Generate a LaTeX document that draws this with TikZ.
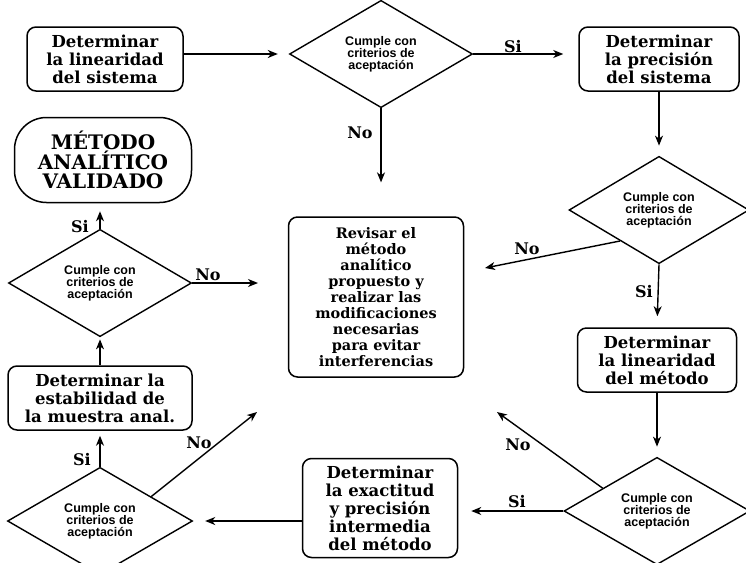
\documentclass[tikz,border=0pt]{standalone}
\usepackage{fontspec}
\newfontfamily\dfont{Liberation Sans}
\newfontfamily\bfont{DejaVu Serif}
\usetikzlibrary{shapes.geometric,arrows.meta,calc}
\begin{document}
\begin{tikzpicture}[x=1pt,y=-1pt,
  box/.style={draw, line width=1.5pt, rounded corners=9pt, align=center, inner sep=0pt,
    font=\bfont\bfseries\fontsize{16.5}{18}\selectfont},
  dec/.style={draw, diamond, line width=1.4pt, inner sep=0pt, align=center,
    font=\dfont\bfseries\fontsize{12.5}{11.5}\selectfont},
  arr/.style={line width=1.4pt, -{Stealth[length=10pt,width=8pt,inset=3pt]}},
  lab/.style={font=\bfont\bfseries\fontsize{16}{16}\selectfont, inner sep=0pt}]
\useasboundingbox (0,0) rectangle (746,562);

\node[box, minimum width=156pt, minimum height=64pt] (b1) at (105,59) {Determinar\\la linearidad\\del sistema};
\node[dec, minimum width=183pt, minimum height=91pt] (d1) at (381,54) {Cumple con\\criterios de\\aceptación};
\node[box, minimum width=160pt, minimum height=64pt] (b2) at (659,59) {Determinar\\la precisión\\del sistema};
\node[dec, minimum width=180pt, minimum height=93pt] (d2) at (659,210) {Cumple con\\criterios de\\aceptación};
\node[box, minimum width=159pt, minimum height=64pt] (b3) at (657,360) {Determinar\\la linearidad\\del método};
\node[dec, minimum width=186pt, minimum height=92pt] (d4) at (657,511) {Cumple con\\criterios de\\aceptación};
\node[box, minimum width=155pt, minimum height=99pt] (b4) at (380,508) {Determinar\\la exactitud\\y precisión\\intermedia\\del método};
\node[dec, minimum width=185pt, minimum height=104pt] (d5) at (100,521) {Cumple con\\criterios de\\aceptación};
\node[box, minimum width=184pt, minimum height=64pt] (b5) at (100,398) {Determinar la\\estabilidad de\\la muestra anal.};
\node[dec, minimum width=183pt, minimum height=91pt] (d6) at (100,283) {Cumple con\\criterios de\\aceptación};
\node[box, rounded corners=32pt, minimum width=177pt, minimum height=85pt, font=\bfont\bfseries\fontsize{20}{19.5}\selectfont] (t) at (103,160) {MÉTODO\\ANALÍTICO\\VALIDADO};
\node[box, minimum width=175pt, minimum height=160pt, font=\bfont\bfseries\fontsize{14.5}{16}\selectfont] (rev) at (376,297)
  {Revisar el\\método\\analítico\\propuesto y\\realizar las\\modificaciones\\necesarias\\para evitar\\interferencias};

\node[lab] (s1) at (513,47) {Si};
\node[lab] (n1) at (360,133) {No};
\node[lab] (n2) at (527,249) {No};
\node[lab] (s2) at (644,292) {Si};
\node[lab] (n4) at (518,445) {No};
\node[lab] (s4) at (517,502) {Si};
\node[lab] (s5) at (82,460) {Si};
\node[lab] (n5) at (199,443) {No};
\node[lab] (n6) at (208,275) {No};
\node[lab] (s6) at (80,227) {Si};

\coordinate (e1) at ($(d1.south)+(0,74)$);
\coordinate (e2) at (485,268);
\coordinate (e4) at (497,412);
\coordinate (e5) at (257,412);
\coordinate (e6) at (258,283);

\draw[arr, shorten >=11pt] (b1.east |- d1.west) -- (d1.west);
\draw[arr, shorten >=15pt] (d1.east) -- (d1.east -| b2.west);
\draw[arr] (d1.south) -- (e1);
\draw[arr, shorten >=10pt] (b2.south) -- (d2.north);
\draw[arr] ($(d2.west)!0.57!(d2.south)$) -- (e2);
\draw[arr, shorten >=11pt] (d2.south) -- (b3.north);
\draw[arr, shorten >=10pt] (b3.south) -- (d4.north);
\draw[arr] ($(d4.west)!0.42!(d4.north)$) -- (e4);
\draw[arr, shorten >=13pt] (d4.west) -- (d4.west -| b4.east);
\draw[arr, shorten >=12pt] (b4.west |- d5.east) -- (d5.east);
\draw[arr, shorten >=5pt] (d5.north) -- (b5.south);
\draw[arr] ($(d5.north)!0.55!(d5.east)$) -- (e5);
\draw[arr, shorten >=2pt] (b5.north) -- (d6.south);
\draw[arr] (d6.east) -- (e6);
\draw[arr, shorten >=8pt] (d6.north) -- (d6.north |- t.south);
\end{tikzpicture}
\end{document}
